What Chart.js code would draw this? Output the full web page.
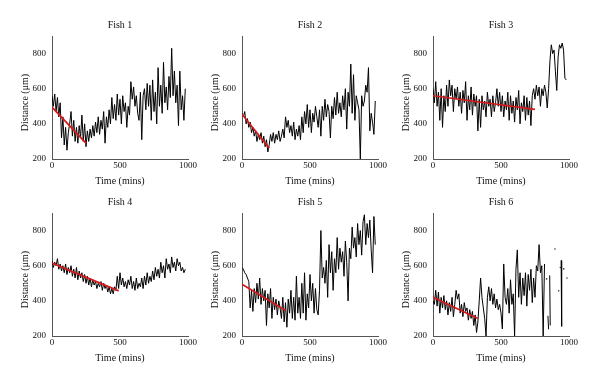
<!DOCTYPE html>
<html><head><meta charset="utf-8">
<script src="https://cdn.jsdelivr.net/npm/chart.js@4.4.1/dist/chart.umd.min.js"></script>
<style>
html,body{margin:0;padding:0;background:#fff;}
body{width:600px;height:383px;position:relative;overflow:hidden;}
canvas{position:absolute;}
</style></head><body>
<canvas id="c1" width="200" height="190" style="left:0px;top:0px"></canvas>
<canvas id="c2" width="200" height="190" style="left:190px;top:0px"></canvas>
<canvas id="c3" width="200" height="190" style="left:381px;top:0px"></canvas>
<canvas id="c4" width="200" height="190" style="left:0px;top:177px"></canvas>
<canvas id="c5" width="200" height="190" style="left:190px;top:177px"></canvas>
<canvas id="c6" width="200" height="190" style="left:381px;top:177px"></canvas>
<script>
const xTicks = [0, 500, 1000];
const yTicks = [200, 400, 600, 800];
const titles = ['Fish 1', 'Fish 2', 'Fish 3', 'Fish 4', 'Fish 5', 'Fish 6'];

const time = [0,10,20,30,40,50,60,70,80,90,100,110,120,130,140,150,160,170,180,190,
200,210,220,230,240,250,260,270,280,290,300,310,320,330,340,350,360,370,380,390,
400,410,420,430,440,450,460,470,480,490,500,510,520,530,540,550,560,570,580,590,
600,610,620,630,640,650,660,670,680,690,700,710,720,730,740,750,760,770,780,790,
800,810,820,830,840,850,860,870,880,890,900,910,920,930,940,950,960,970,980];

const fish1 = [560,500,570,470,550,440,520,320,440,280,
380,250,350,400,470,330,420,300,380,290,
390,320,450,300,400,270,360,300,370,320,
390,330,410,350,440,340,420,370,470,290,
440,380,480,400,550,430,510,420,570,450,
540,400,560,470,520,380,500,450,640,540,
610,500,560,460,420,580,310,560,600,480,
630,500,620,420,650,470,580,400,720,500,
620,460,750,520,610,480,670,550,830,560,
700,520,620,390,700,480,560,420,600];

const fish2 = [460,440,470,400,430,380,410,350,380,330,
360,300,340,310,350,290,330,270,310,240,
280,340,300,350,290,340,310,360,300,330,
370,320,440,380,420,350,390,330,410,310,
370,330,390,310,440,350,470,400,510,380,
480,350,460,410,500,440,380,480,330,500,
420,540,440,510,470,320,500,430,550,450,
580,460,520,440,560,480,600,370,580,500,
740,460,680,420,560,520,480,200,560,500,
530,620,580,720,360,460,410,340,530];

const fish3 = [600,520,640,500,580,420,600,380,560,470,
620,500,650,560,620,470,600,540,610,500,
580,460,590,520,640,420,560,480,610,450,
570,500,560,360,540,380,560,480,530,440,
580,500,540,440,560,470,520,600,500,580,
470,560,440,530,480,580,420,560,460,530,
410,550,480,590,400,520,470,560,420,550,
450,530,390,560,600,540,620,560,610,500,
600,560,620,580,490,600,760,850,800,820,
700,590,780,850,830,860,820,660,650];

const fish4 = [630,590,620,600,640,580,610,570,600,560,
610,550,590,560,600,540,580,530,590,520,
570,530,560,510,550,500,540,490,530,480,
520,490,510,470,500,480,510,460,500,470,
490,450,480,440,470,440,480,460,540,470,
560,490,530,480,510,470,520,490,540,470,
510,460,530,470,500,480,530,470,540,490,
560,500,540,510,570,520,590,540,580,530,
620,560,600,530,640,580,610,560,650,590,
620,570,640,600,620,570,590,560,580];

const fish5 = [590,580,560,550,530,510,360,460,340,470,
390,500,410,530,380,470,400,460,260,440,
360,470,300,420,350,410,320,400,360,300,
420,280,390,250,410,330,460,300,420,290,
540,330,420,300,500,330,560,290,440,360,
550,400,500,330,470,350,320,460,800,530,
590,500,630,420,720,560,680,460,640,560,
760,580,700,620,680,540,740,620,400,700,
640,820,700,760,650,840,720,800,660,850,
890,720,840,760,860,690,560,880,720];

const fish6Time = [0,10,20,30,40,50,60,70,80,90,100,110,120,130,140,150,160,170,180,190,
200,210,220,230,240,250,260,270,280,290,300,310,320,330,340,350,360,370,380,390,
400,410,420,430,440,450,460,470,480,490,500,510,520,530,540,550,560,570,580,590,
600,610,620,630,640,650,660,670,680,690,700,710,720,730,740,750,760,770,780,790,
800,810,820,825,835,840,845,850,852,858,862,865,897,900,924,927,936,939,942,946,949,961,964,985];

const fish6 = [400,380,460,370,450,330,420,360,430,350,
400,320,390,340,420,310,380,460,410,440,
330,380,310,390,340,360,290,350,300,340,
260,320,220,280,400,530,420,360,300,200,
420,480,400,470,380,440,360,410,350,380,
330,240,610,420,380,470,330,520,380,440,
200,580,690,420,560,380,530,430,560,370,
550,460,580,390,530,420,600,570,720,560,
600,200,610,null,525,null,315,238,null,545,260,null,695,null,457,null,590,null,630,255,null,582,null,530];

const fitTimes = [[0,250],[0,200],[0,750],[0,490],[0,320],[0,330]];
const fitValues = [[495,290],[455,262],[560,482],[615,457],[495,345],[420,300]];

const FONT = "'Liberation Serif', 'Times New Roman', serif";

function isolatedRadius(ctx) {
  const d = ctx.dataset.data, i = ctx.dataIndex;
  if (!d[i] || d[i].y === null) return 0;
  const p = d[i-1], n = d[i+1];
  const pNull = !p || p.y === null, nNull = !n || n.y === null;
  return (pNull && nNull) ? 0.8 : 0;
}

function makeChart(id, title, times, values, fT, fV) {
  const series = times.map((t, i) => ({x: t, y: values[i]}));
  const fit = fT.map((t, i) => ({x: t, y: fV[i]}));
  new Chart(document.getElementById(id), {
    type: 'line',
    data: {datasets: [
      {data: fit, borderColor: '#d41a1c', borderWidth: 1.7, pointRadius: 0, tension: 0},
      {data: series, borderColor: '#000', borderWidth: 1, spanGaps: false, tension: 0,
       pointRadius: isolatedRadius, pointBackgroundColor: '#333', pointBorderWidth: 0}
    ]},
    options: {
      responsive: false, animation: false, events: [],
      layout: {padding: {left: 0, right: 12, top: 0, bottom: 0}},
      plugins: {
        legend: {display: false}, tooltip: {enabled: false},
        title: {display: true, text: title, fullSize: false, color: '#111',
                font: {family: FONT, size: 10, weight: 'normal'}, padding: {top: 19.2, bottom: 4.8}}
      },
      scales: {
        x: {type: 'linear', min: 0, max: 1000,
            afterBuildTicks: a => { a.ticks = xTicks.map(v => ({value: v})); },
            afterFit: s => { s.height = 31; },
            grid: {display: false, drawTicks: false},
            border: {display: true, color: '#555', width: 1},
            ticks: {padding: 1, maxRotation: 0, autoSkip: false, color: '#111',
                    font: {family: FONT, size: 9}, callback: v => String(v)},
            title: {display: true, text: 'Time (mins)', color: '#111',
                    font: {family: FONT, size: 10}, padding: {top: 0, bottom: 3}}},
        y: {type: 'linear', min: 200, max: 900,
            afterBuildTicks: a => { a.ticks = yTicks.map(v => ({value: v})); },
            afterFit: s => { s.width = 52; },
            grid: {display: false, drawTicks: false},
            border: {display: true, color: '#555', width: 1},
            ticks: {padding: 6, autoSkip: false, color: '#111',
                    font: {family: FONT, size: 9}, callback: v => String(v)},
            title: {display: true, text: 'Distance (\u03bcm)    ', color: '#111',
                    font: {family: FONT, size: 10}, padding: {top: 19, bottom: 0}}}
      }
    }
  });
}

makeChart('c1', titles[0], time, fish1, fitTimes[0], fitValues[0]);
makeChart('c2', titles[1], time, fish2, fitTimes[1], fitValues[1]);
makeChart('c3', titles[2], time, fish3, fitTimes[2], fitValues[2]);
makeChart('c4', titles[3], time, fish4, fitTimes[3], fitValues[3]);
makeChart('c5', titles[4], time, fish5, fitTimes[4], fitValues[4]);
makeChart('c6', titles[5], fish6Time, fish6, fitTimes[5], fitValues[5]);
</script>
</body></html>
